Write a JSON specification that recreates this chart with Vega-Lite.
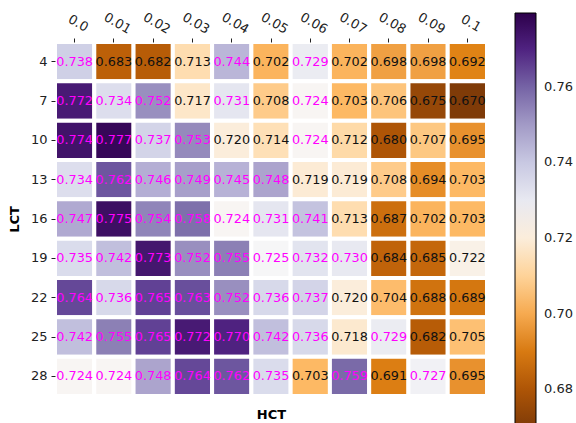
{
  "$schema": "https://vega.github.io/schema/vega-lite/v6.json",
  "autosize": {"type": "none"},
  "width": 432,
  "height": 354,
  "padding": {"left": 55, "top": 42, "right": 89, "bottom": 27},
  "background": "white",
  "config": {"view": {"stroke": null}, "font": "DejaVu Sans"},
  "data": {"values": [
    {"h":"0.0","l":4,"v":0.738},{"h":"0.01","l":4,"v":0.683},{"h":"0.02","l":4,"v":0.682},{"h":"0.03","l":4,"v":0.713},{"h":"0.04","l":4,"v":0.744},{"h":"0.05","l":4,"v":0.702},{"h":"0.06","l":4,"v":0.729},{"h":"0.07","l":4,"v":0.702},{"h":"0.08","l":4,"v":0.698},{"h":"0.09","l":4,"v":0.698},{"h":"0.1","l":4,"v":0.692},
    {"h":"0.0","l":7,"v":0.772},{"h":"0.01","l":7,"v":0.734},{"h":"0.02","l":7,"v":0.752},{"h":"0.03","l":7,"v":0.717},{"h":"0.04","l":7,"v":0.731},{"h":"0.05","l":7,"v":0.708},{"h":"0.06","l":7,"v":0.724},{"h":"0.07","l":7,"v":0.703},{"h":"0.08","l":7,"v":0.706},{"h":"0.09","l":7,"v":0.675},{"h":"0.1","l":7,"v":0.670},
    {"h":"0.0","l":10,"v":0.774},{"h":"0.01","l":10,"v":0.777},{"h":"0.02","l":10,"v":0.737},{"h":"0.03","l":10,"v":0.753},{"h":"0.04","l":10,"v":0.720},{"h":"0.05","l":10,"v":0.714},{"h":"0.06","l":10,"v":0.724},{"h":"0.07","l":10,"v":0.712},{"h":"0.08","l":10,"v":0.680},{"h":"0.09","l":10,"v":0.707},{"h":"0.1","l":10,"v":0.695},
    {"h":"0.0","l":13,"v":0.734},{"h":"0.01","l":13,"v":0.762},{"h":"0.02","l":13,"v":0.746},{"h":"0.03","l":13,"v":0.749},{"h":"0.04","l":13,"v":0.745},{"h":"0.05","l":13,"v":0.748},{"h":"0.06","l":13,"v":0.719},{"h":"0.07","l":13,"v":0.719},{"h":"0.08","l":13,"v":0.708},{"h":"0.09","l":13,"v":0.694},{"h":"0.1","l":13,"v":0.703},
    {"h":"0.0","l":16,"v":0.747},{"h":"0.01","l":16,"v":0.775},{"h":"0.02","l":16,"v":0.754},{"h":"0.03","l":16,"v":0.758},{"h":"0.04","l":16,"v":0.724},{"h":"0.05","l":16,"v":0.731},{"h":"0.06","l":16,"v":0.741},{"h":"0.07","l":16,"v":0.713},{"h":"0.08","l":16,"v":0.687},{"h":"0.09","l":16,"v":0.702},{"h":"0.1","l":16,"v":0.703},
    {"h":"0.0","l":19,"v":0.735},{"h":"0.01","l":19,"v":0.742},{"h":"0.02","l":19,"v":0.773},{"h":"0.03","l":19,"v":0.752},{"h":"0.04","l":19,"v":0.755},{"h":"0.05","l":19,"v":0.725},{"h":"0.06","l":19,"v":0.732},{"h":"0.07","l":19,"v":0.730},{"h":"0.08","l":19,"v":0.684},{"h":"0.09","l":19,"v":0.685},{"h":"0.1","l":19,"v":0.722},
    {"h":"0.0","l":22,"v":0.764},{"h":"0.01","l":22,"v":0.736},{"h":"0.02","l":22,"v":0.765},{"h":"0.03","l":22,"v":0.763},{"h":"0.04","l":22,"v":0.752},{"h":"0.05","l":22,"v":0.736},{"h":"0.06","l":22,"v":0.737},{"h":"0.07","l":22,"v":0.720},{"h":"0.08","l":22,"v":0.704},{"h":"0.09","l":22,"v":0.688},{"h":"0.1","l":22,"v":0.689},
    {"h":"0.0","l":25,"v":0.742},{"h":"0.01","l":25,"v":0.755},{"h":"0.02","l":25,"v":0.765},{"h":"0.03","l":25,"v":0.772},{"h":"0.04","l":25,"v":0.770},{"h":"0.05","l":25,"v":0.742},{"h":"0.06","l":25,"v":0.736},{"h":"0.07","l":25,"v":0.718},{"h":"0.08","l":25,"v":0.729},{"h":"0.09","l":25,"v":0.682},{"h":"0.1","l":25,"v":0.705},
    {"h":"0.0","l":28,"v":0.724},{"h":"0.01","l":28,"v":0.724},{"h":"0.02","l":28,"v":0.748},{"h":"0.03","l":28,"v":0.764},{"h":"0.04","l":28,"v":0.762},{"h":"0.05","l":28,"v":0.735},{"h":"0.06","l":28,"v":0.703},{"h":"0.07","l":28,"v":0.759},{"h":"0.08","l":28,"v":0.691},{"h":"0.09","l":28,"v":0.727},{"h":"0.1","l":28,"v":0.695}
  ]},
  "encoding": {
    "x": {"field": "h", "type": "ordinal", "sort": ["0.0","0.01","0.02","0.03","0.04","0.05","0.06","0.07","0.08","0.09","0.1"],
      "scale": {"paddingInner": 0, "paddingOuter": 0},
      "axis": {"orient": "top", "title": "HCT", "titleY": 372, "titleX": 216, "titleBaseline": "middle", "titleFontWeight": "bold", "titleFontSize": 13, "titleColor": "black",
        "labelAngle": 30, "labelAlign": "center", "labelBaseline": "bottom", "labelFontSize": 13, "labelColor": "#222", "labelPadding": 9,
        "domain": false, "ticks": true, "tickSize": 4, "tickColor": "#222", "grid": false}},
    "y": {"field": "l", "type": "ordinal", "sort": [4,7,10,13,16,19,22,25,28],
      "scale": {"paddingInner": 0, "paddingOuter": 0},
      "axis": {"title": "LCT", "titleFontWeight": "bold", "titleFontSize": 13, "titleColor": "black", "titlePadding": 9,
        "labelAngle": 0, "labelFontSize": 13, "labelColor": "#222", "labelPadding": 4,
        "domain": false, "ticks": true, "tickSize": 4, "tickColor": "#222", "grid": false}}
  },
  "layer": [
    {"mark": {"type": "rect", "stroke": "white", "strokeWidth": 4},
     "encoding": {"color": {"field": "v", "type": "quantitative",
       "scale": {"domain": [0.670, 0.7795], "range": ["#7f3b08","#b35806","#e08214","#fdb863","#fee0b6","#f7f7f7","#d8daeb","#b2abd2","#8073ac","#542788","#2d004b"]},
       "legend": {"title": null, "orient": "none", "legendX": 460, "legendY": -29, "direction": "vertical",
         "gradientLength": 414, "gradientThickness": 21, "gradientStrokeColor": "black", "gradientStrokeWidth": 1,
         "values": [0.68, 0.70, 0.72, 0.74, 0.76], "format": ".2f", "labelFontSize": 13, "labelColor": "#222", "labelOffset": 8, "labelOverlap": false}}}},
    {"mark": {"type": "text", "fontSize": 12.8, "font": "DejaVu Sans"},
     "encoding": {"text": {"field": "v", "type": "quantitative", "format": ".3f"},
       "color": {"condition": {"test": "datum.v > 0.7235", "value": "#ff00ff"}, "value": "#111111"}}}
  ]
}
